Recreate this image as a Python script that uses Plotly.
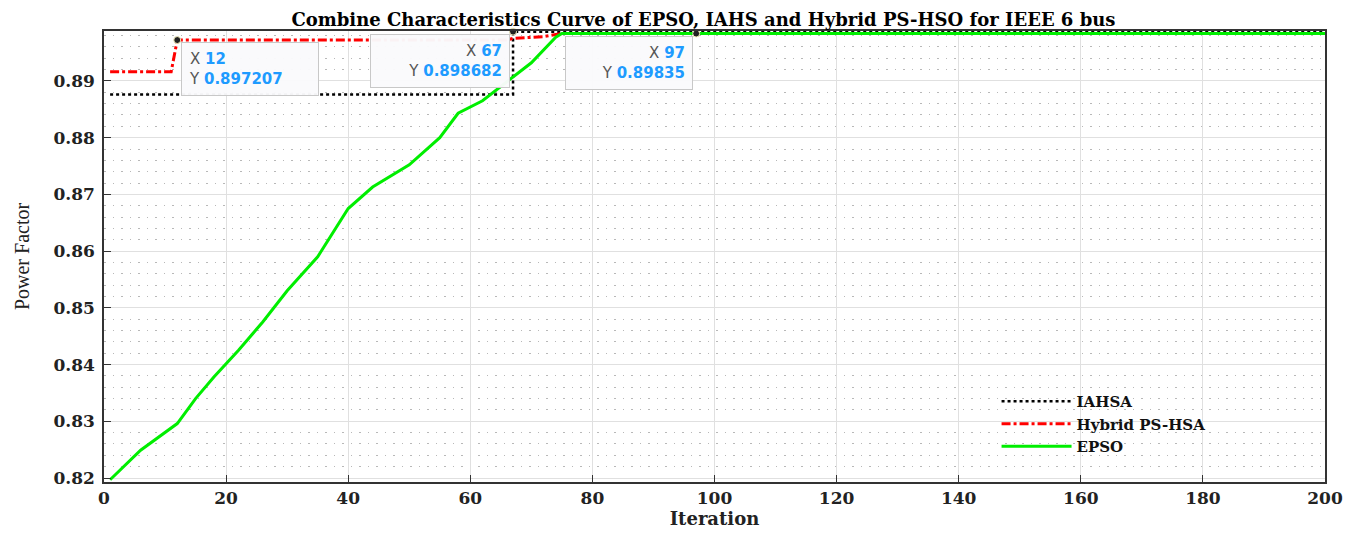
import plotly.graph_objects as go

# ---- data ----
iahsa_x = [1, 67, 200]
iahsa_y = [0.8876, 0.898682, 0.898682]

hybrid_x = [1, 11, 12, 66, 67, 72, 75, 200]
hybrid_y = [0.8916, 0.8916, 0.897207, 0.897207, 0.8975, 0.8978, 0.89835, 0.89835]

epso_x = [1, 6, 12, 15, 18, 22, 26, 30, 35, 40, 44, 50, 55, 58, 62, 66, 70, 74, 75, 200]
epso_y = [0.8197, 0.8249, 0.8296, 0.8340, 0.8378, 0.8425, 0.8475, 0.8530, 0.8590,
          0.8675, 0.8713, 0.8752, 0.8800, 0.8843, 0.8865, 0.8899, 0.8932, 0.8977, 0.89835, 0.89835]

tip_x = [12, 67, 97]
tip_y = [0.897207, 0.898682, 0.89835]
tip_ylabels = ["0.897207", "0.898682", "0.89835"]

y_ticks = [0.82, 0.83, 0.84, 0.85, 0.86, 0.87, 0.88, 0.89]
x_ticks = [0, 20, 40, 60, 80, 100, 120, 140, 160, 180, 200]

serif_b = "DejaVu Serif"

fig = go.Figure()
fig.add_trace(go.Scatter(x=iahsa_x, y=iahsa_y, mode="lines", name="IAHSA",
                         line=dict(color="black", width=2.5, dash="dot", shape="hv")))
fig.add_trace(go.Scatter(x=hybrid_x, y=hybrid_y, mode="lines", name="Hybrid PS-HSA",
                         line=dict(color="#ff0000", width=3, dash="dashdot")))
fig.add_trace(go.Scatter(x=epso_x, y=epso_y, mode="lines", name="EPSO",
                         line=dict(color="#00ee00", width=3)))
fig.add_trace(go.Scatter(x=tip_x, y=tip_y, mode="markers", showlegend=False, cliponaxis=False,
                         marker=dict(color="#222", size=7, line=dict(color="#f5f0c0", width=1))))

anchors = ["left", "right", "right"]
shifts = [4, -3, -3]
widths = [122, 124, 112]
for xv, yv, lab, anc, sh, w in zip(tip_x, tip_y, tip_ylabels, anchors, shifts, widths):
    txt = (f"<span style='color:#555'>X</span> <span style='color:#1e9bff'><b>{xv}</b></span><br>"
           f"<span style='color:#555'>Y</span> <span style='color:#1e9bff'><b>{lab}</b></span>")
    fig.add_annotation(x=xv, y=yv, xref="x", yref="y", text=txt, showarrow=False,
                       xanchor=anc, yanchor="top", xshift=sh, yshift=-2,
                       width=w, height=38,
                       align="left" if anc == "left" else "right",
                       font=dict(family="DejaVu Sans", size=15),
                       bgcolor="rgba(250,250,252,0.97)", bordercolor="#c8c8c8",
                       borderwidth=1, borderpad=7)

fig.update_layout(
    width=1353, height=527,
    margin=dict(l=96, r=36, t=23, b=53),
    paper_bgcolor="white", plot_bgcolor="white",
    title=dict(text="<b>Combine Characteristics Curve of EPSO, IAHS and Hybrid PS-HSO for IEEE 6 bus</b>",
               x=0.514, xanchor="center", y=0.989, yanchor="top", yref="container",
               pad=dict(t=0, b=0),
               font=dict(family=serif_b, size=18, color="black")),
    legend=dict(x=0.731, y=0.215, xanchor="left", yanchor="top", bgcolor="rgba(0,0,0,0)",
                font=dict(family=serif_b, size=15, color="#111", weight="bold"),
                tracegroupgap=0, itemwidth=70),
    xaxis=dict(range=[0, 200], tickvals=x_ticks, showline=True, linecolor="#333", linewidth=1.5,
               mirror=True, ticks="inside", ticklen=7, tickcolor="#333", automargin=False,
               showgrid=True, gridcolor="#e0e0e0", zeroline=False,
               tickfont=dict(family=serif_b, size=17, color="#222", weight="bold"),
               title=dict(text="<b>Iteration</b>", standoff=2,
                          font=dict(family=serif_b, size=18, color="#222"))),
    yaxis=dict(range=[0.8193, 0.8988], tickvals=y_ticks, tickformat=".2f",
               showline=True, linecolor="#333", linewidth=1.5, automargin=False,
               mirror=True, ticks="inside", ticklen=7, tickcolor="#333",
               ticklabelstandoff=4,
               showgrid=True, gridcolor="#e0e0e0", zeroline=False,
               minor=dict(dtick=0.002, showgrid=True, gridcolor="#b8b8b8",
                          griddash="1.5px,7px", gridwidth=1),
               tickfont=dict(family=serif_b, size=17, color="#222", weight="bold"),
               title=dict(text="Power Factor", standoff=18,
                          font=dict(family="Liberation Serif", size=20, color="#222"))),
)

fig.write_html("out.html")
